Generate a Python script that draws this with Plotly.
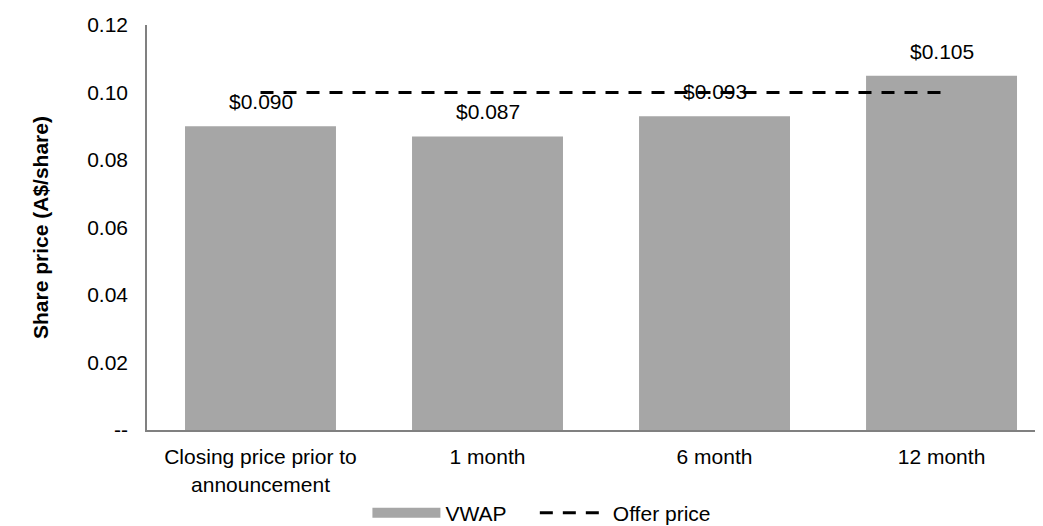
import plotly.graph_objects as go

categories = ["Closing price prior to<br>announcement", "1 month", "6 month", "12 month"]
vwap = [0.090, 0.087, 0.093, 0.105]
offer_price = [0.10, 0.10, 0.10, 0.10]
y_tickvals = [0, 0.02, 0.04, 0.06, 0.08, 0.10, 0.12]
y_ticktext = ["--", "0.02", "0.04", "0.06", "0.08", "0.10", "0.12"]

FONT = "Liberation Sans, Arial, sans-serif"
GREY = "#A6A6A6"
FS = 21

fig = go.Figure()
fig.add_trace(go.Bar(
    x=categories, y=vwap, name="VWAP", marker=dict(color=GREY, line=dict(width=0)),
    width=0.665, showlegend=False, hoverinfo="skip",
))
# legend proxy for VWAP (wide grey swatch)
fig.add_trace(go.Scatter(
    x=[None], y=[None], mode="lines", name="VWAP\u00a0\u00a0\u00a0\u00a0",
    line=dict(color=GREY, width=11), showlegend=True,
))
fig.add_trace(go.Scatter(
    x=categories, y=offer_price, mode="lines", name="Offer price",
    line=dict(color="black", width=3, dash="13px,10px"),
))

for c, v in zip(categories, vwap):
    fig.add_annotation(x=c, y=v, text=f"${v:.3f}", showarrow=False,
                       yanchor="bottom", yshift=11,
                       font=dict(family=FONT, size=FS, color="black"))

fig.update_layout(
    width=1043, height=526,
    margin=dict(l=139, r=8, t=17, b=104, autoexpand=False),
    plot_bgcolor="white", paper_bgcolor="white",
    font=dict(family=FONT, size=FS, color="black"),
    bargap=0.335,
    legend=dict(orientation="h", x=0.246, xanchor="left", y=-0.205, yanchor="middle",
                itemwidth=68, font=dict(size=FS), tracegroupgap=0),
)
fig.update_xaxes(
    range=[-0.5, 3.447], showline=True, linecolor="#808080", linewidth=2,
    ticks="", showgrid=False, zeroline=False, tickfont=dict(size=FS), automargin=False,
    ticklabelstandoff=7,
)
fig.update_yaxes(
    range=[0, 0.12], tickvals=y_tickvals, ticktext=y_ticktext,
    showline=True, linecolor="#808080", linewidth=1.5, showgrid=False,
    zeroline=False, ticks="", ticklabelstandoff=13, tickfont=dict(size=FS), automargin=False,
    title=dict(text="<b>Share price (A$/share)</b>", standoff=33, font=dict(size=FS)),
)

fig.write_html("out.html")
